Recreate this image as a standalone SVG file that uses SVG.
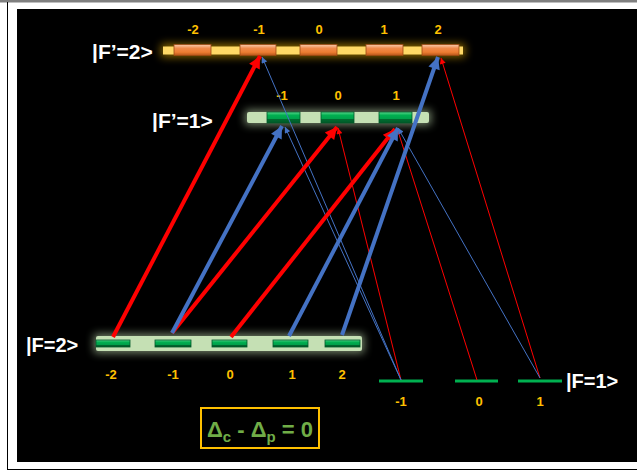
<svg xmlns="http://www.w3.org/2000/svg" width="637" height="471" viewBox="0 0 637 471">
<defs>
<style>
.lvl{font-family:"Liberation Sans",Arial,sans-serif;font-weight:bold;fill:#FFFFFF}
.num{font-family:"Liberation Sans",Arial,sans-serif;font-weight:bold;fill:#FFC000;font-size:13px;text-anchor:middle}
.or{fill:url(#gOr);stroke:#9C4A12;stroke-width:0.8}
.gr{fill:url(#gGr);stroke:#00592A;stroke-width:0.8}
.thickR{stroke:#FF0000;stroke-width:4;fill:none}
.thickB{stroke:#4472C4;stroke-width:4;fill:none}
.thinR{stroke:#FF0000;stroke-width:1;fill:none}
.thinB{stroke:#4472C4;stroke-width:1;fill:none}
</style>
<linearGradient id="gOr" x1="0" y1="0" x2="0" y2="1">
<stop offset="0" stop-color="#F8CBAD"/><stop offset="0.35" stop-color="#F08A4B"/><stop offset="0.7" stop-color="#ED7D31"/><stop offset="1" stop-color="#B5541A"/>
</linearGradient>
<linearGradient id="gGr" x1="0" y1="0" x2="0" y2="1">
<stop offset="0" stop-color="#5CD68E"/><stop offset="0.3" stop-color="#00B050"/><stop offset="0.65" stop-color="#00A04A"/><stop offset="0.66" stop-color="#006B30"/><stop offset="1" stop-color="#005A28"/>
</linearGradient>
<filter id="glowY" x="-10%" y="-150%" width="120%" height="400%"><feGaussianBlur stdDeviation="4"/></filter>
<filter id="glowG" x="-10%" y="-100%" width="120%" height="300%"><feGaussianBlur stdDeviation="4"/></filter>
<marker id="aR" viewBox="0 0 10 10" refX="10" refY="5" markerUnits="userSpaceOnUse" markerWidth="14" markerHeight="12" orient="auto"><path d="M0,0 L10,5 L0,10 z" fill="#FF0000"/></marker>
<marker id="aB" viewBox="0 0 10 10" refX="10" refY="5" markerUnits="userSpaceOnUse" markerWidth="14" markerHeight="12" orient="auto"><path d="M0,0 L10,5 L0,10 z" fill="#4472C4"/></marker>
<marker id="aRs" viewBox="0 0 10 10" refX="10" refY="5" markerUnits="userSpaceOnUse" markerWidth="7" markerHeight="6" orient="auto"><path d="M0,0 L10,5 L0,10 z" fill="#FF0000"/></marker>
<marker id="aBs" viewBox="0 0 10 10" refX="10" refY="5" markerUnits="userSpaceOnUse" markerWidth="7" markerHeight="6" orient="auto"><path d="M0,0 L10,5 L0,10 z" fill="#4472C4"/></marker>
</defs>
<rect x="0" y="0" width="637" height="471" fill="#FFFFFF"/>
<rect x="0" y="0" width="637" height="2.5" fill="#808080"/>
<line x1="7.5" y1="2" x2="7.5" y2="470" stroke="#000" stroke-width="1"/>
<line x1="7" y1="469.5" x2="637" y2="469.5" stroke="#000" stroke-width="1"/>
<rect x="17" y="9" width="620" height="453" fill="#000000"/>

<g id="level-Fp2">
<rect x="161" y="44" width="304" height="13" fill="#FFC000" opacity="0.55" filter="url(#glowY)"/>
<rect x="163" y="46.5" width="300" height="8" fill="#FFD966"/>
<rect class="or" x="174" y="44.5" width="37" height="11"/>
<rect class="or" x="240" y="44.5" width="36" height="11"/>
<rect class="or" x="300" y="44.5" width="37" height="11"/>
<rect class="or" x="366" y="44.5" width="37" height="11"/>
<rect class="or" x="422" y="44.5" width="37" height="11"/>
<text class="lvl" x="92" y="59" font-size="21">|F’=2&gt;</text>
<text class="num" x="193" y="34">-2</text>
<text class="num" x="259" y="34">-1</text>
<text class="num" x="319" y="34">0</text>
<text class="num" x="384" y="34">1</text>
<text class="num" x="438" y="34">2</text>
</g>

<g id="level-Fp1">
<rect x="245" y="110" width="186" height="15" fill="#C5E0B4" opacity="0.6" filter="url(#glowG)"/>
<rect x="247" y="112" width="182" height="11" rx="2" fill="#C5E0B4"/>
<rect class="gr" x="267" y="112" width="33" height="11"/>
<rect class="gr" x="321" y="112" width="33" height="11"/>
<rect class="gr" x="379" y="112" width="33" height="11"/>
<text class="lvl" x="152" y="128" font-size="21">|F’=1&gt;</text>
<text class="num" x="282" y="100">-1</text>
<text class="num" x="338" y="100">0</text>
<text class="num" x="396" y="100">1</text>
</g>

<g id="level-F2">
<rect x="94" y="334" width="270" height="19" fill="#C5E0B4" opacity="0.6" filter="url(#glowG)"/>
<rect x="96" y="336" width="266" height="15" rx="2" fill="#C5E0B4"/>
<rect class="gr" x="96" y="340" width="34" height="7"/>
<rect class="gr" x="155" y="340" width="36" height="7"/>
<rect class="gr" x="212" y="340" width="35" height="7"/>
<rect class="gr" x="273" y="340" width="35" height="7"/>
<rect class="gr" x="325" y="340" width="35" height="7"/>
<text class="lvl" x="26" y="352" font-size="20">|F=2&gt;</text>
<text class="num" x="111" y="379">-2</text>
<text class="num" x="173" y="379">-1</text>
<text class="num" x="230" y="379">0</text>
<text class="num" x="292" y="379">1</text>
<text class="num" x="342" y="379">2</text>
</g>

<g id="level-F1">
<rect x="379" y="379.5" width="44" height="3" fill="#00B050"/>
<rect x="455" y="379.5" width="43" height="3" fill="#00B050"/>
<rect x="518" y="379.5" width="44" height="3" fill="#00B050"/>
<text class="lvl" x="566" y="388" font-size="20">|F=1&gt;</text>
<text class="num" x="401" y="406">-1</text>
<text class="num" x="479" y="406">0</text>
<text class="num" x="540" y="406">1</text>
</g>

<g id="connectors">
<line class="thinR" x1="401" y1="380" x2="338" y2="128" marker-end="url(#aRs)"/>
<line class="thinR" x1="477" y1="380" x2="397" y2="128" marker-end="url(#aRs)"/>
<line class="thinR" x1="540" y1="378" x2="441" y2="58" marker-end="url(#aRs)"/>
<line class="thinB" x1="401" y1="380" x2="262" y2="57" marker-end="url(#aBs)"/>
<line class="thinB" x1="401" y1="380" x2="285" y2="127" marker-end="url(#aBs)"/>
<line class="thinB" x1="540" y1="378" x2="398" y2="128" marker-end="url(#aBs)"/>
<line class="thickR" x1="113" y1="337" x2="260" y2="56" marker-end="url(#aR)"/>
<line class="thickR" x1="172" y1="333" x2="337" y2="127" marker-end="url(#aR)"/>
<line class="thickR" x1="231" y1="337" x2="395" y2="129" marker-end="url(#aR)"/>
<line class="thickB" x1="172" y1="333" x2="282" y2="126" marker-end="url(#aB)"/>
<line class="thickB" x1="289" y1="336" x2="398" y2="128" marker-end="url(#aB)"/>
<line class="thickB" x1="342" y1="335" x2="438" y2="57" marker-end="url(#aB)"/>
</g>

<g id="detuning">
<rect x="201" y="408" width="118" height="40" fill="none" stroke="#FFC000" stroke-width="2"/>
<text x="207" y="437" font-family="'Liberation Sans',Arial,sans-serif" font-weight="bold" font-size="22" fill="#70AD47">Δ<tspan font-size="15" dy="5">c</tspan><tspan dy="-5"> - Δ</tspan><tspan font-size="15" dy="5">p</tspan><tspan dy="-5"> = 0</tspan></text>
</g>
</svg>
